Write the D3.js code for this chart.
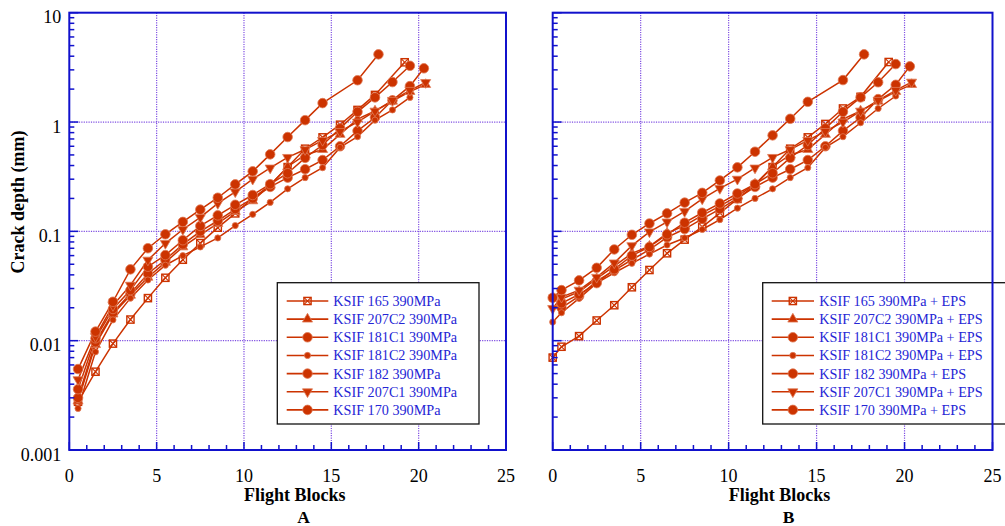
<!DOCTYPE html>
<html><head><meta charset="utf-8">
<script src="https://cdn.jsdelivr.net/npm/d3@7"></script>
<style>
html,body{margin:0;padding:0;background:#fff;}
svg{display:block;}
</style></head>
<body>
<svg id="chart" width="1005" height="526"></svg>
<script>
// ---------- data ----------
const xTickValues = [0, 5, 10, 15, 20, 25];
const yTickValues = [0.001, 0.01, 0.1, 1, 10];
const yTickLabels = ["0.001", "0.01", "0.1", "1", "10"];
const xTitle = "Flight Blocks";
const yTitle = "Crack depth (mm)";
const panelLetters = ["A", "B"];

const namesA = ["KSIF 165 390MPa", "KSIF 207C2 390MPa", "KSIF 181C1 390MPa", "KSIF 181C2 390MPa", "KSIF 182 390MPa", "KSIF 207C1 390MPa", "KSIF 170 390MPa"];
const namesB = ["KSIF 165 390MPa + EPS", "KSIF 207C2 390MPa + EPS", "KSIF 181C1 390MPa + EPS", "KSIF 181C2 390MPa + EPS", "KSIF 182 390MPa + EPS", "KSIF 207C1 390MPa + EPS", "KSIF 170 390MPa + EPS"];

// Panel A series: [flight blocks, crack depth mm]
const a165 = [[0.5,0.00276],[1.5,0.0052],[2.5,0.0094],[3.5,0.0156],[4.5,0.0245],[5.5,0.0376],[6.5,0.055],[7.5,0.078],[8.5,0.108],[9.5,0.146],[10.5,0.2],[11.5,0.265],[12.5,0.387],[13.5,0.57],[14.5,0.724],[15.5,0.945],[16.5,1.29],[17.5,1.77],[19.2,3.52]];
const a207C2 = [[0.5,0.0028],[1.5,0.0092],[2.5,0.0175],[3.5,0.026],[4.5,0.038],[5.5,0.052],[6.5,0.072],[7.5,0.093],[8.5,0.118],[9.5,0.152],[10.5,0.19],[11.5,0.265],[12.5,0.39],[13.5,0.5],[14.5,0.56],[15.5,0.77],[16.5,1.065],[17.5,1.26],[18.5,1.55],[19.5,1.9],[20.4,2.2]];
const a181C1 = [[0.5,0.003],[1.5,0.0097],[2.5,0.018],[3.5,0.027],[4.5,0.041],[5.5,0.055],[6.5,0.076],[7.5,0.1],[8.5,0.125],[9.5,0.16],[10.5,0.2],[11.5,0.255],[12.5,0.31],[13.5,0.37],[14.5,0.449],[15.5,0.6],[16.5,0.83],[17.5,1.1],[18.5,1.58],[19.5,2.13],[20.3,3.1]];
const a181C2 = [[0.5,0.0024],[1.5,0.0079],[2.5,0.0155],[3.5,0.0245],[4.5,0.0359],[5.5,0.049],[6.5,0.06],[7.5,0.072],[8.5,0.087],[9.5,0.113],[10.5,0.143],[11.5,0.184],[12.5,0.245],[13.5,0.31],[14.5,0.382],[15.5,0.586],[16.5,0.734],[17.5,1.04],[18.5,1.29],[19.5,1.68]];
const a182 = [[0.5,0.0036],[1.5,0.0105],[2.5,0.0195],[3.5,0.029],[4.5,0.0475],[5.5,0.0607],[6.5,0.083],[7.5,0.112],[8.5,0.14],[9.5,0.175],[10.5,0.215],[11.5,0.27],[12.5,0.34],[13.5,0.47],[14.5,0.616],[15.5,0.875],[16.5,1.24],[17.5,1.68],[18.5,2.32],[19.5,3.27]];
const a207C1 = [[0.5,0.0044],[1.5,0.0109],[2.5,0.021],[3.5,0.0322],[4.5,0.0546],[5.5,0.0777],[6.5,0.104],[7.5,0.134],[8.5,0.18],[9.5,0.23],[10.5,0.3],[11.5,0.38],[12.5,0.475],[13.5,0.56],[14.5,0.68],[15.5,0.82],[16.5,1.0],[17.5,1.26],[18.5,1.58],[19.5,1.95],[20.4,2.3]];
const a170 = [[0.5,0.0055],[1.5,0.0121],[2.5,0.0227],[3.5,0.0449],[4.5,0.0701],[5.5,0.094],[6.5,0.122],[7.5,0.158],[8.5,0.203],[9.5,0.269],[10.5,0.354],[11.5,0.506],[12.5,0.729],[13.5,1.04],[14.5,1.49],[16.5,2.41],[17.7,4.16]];

// Panel B series (+ EPS)
const b165 = [[0,0.007],[0.5,0.0088],[1.5,0.011],[2.5,0.0153],[3.5,0.0211],[4.5,0.0308],[5.5,0.0443],[6.5,0.063],[7.5,0.084],[8.5,0.11],[9.5,0.147],[10.5,0.198],[11.5,0.265],[12.5,0.387],[13.5,0.57],[14.5,0.724],[15.5,0.96],[16.5,1.33],[17.5,1.7],[19.1,3.54]];
const b207C2 = [[0.5,0.024],[1.5,0.028],[2.5,0.037],[3.5,0.048],[4.5,0.063],[5.5,0.073],[6.5,0.096],[7.5,0.113],[8.5,0.14],[9.5,0.17],[10.5,0.21],[11.5,0.27],[12.5,0.39],[13.5,0.5],[14.5,0.56],[15.5,0.77],[16.5,1.065],[17.5,1.26],[18.5,1.55],[19.5,1.9],[20.4,2.2]];
const b181C1 = [[0.5,0.02],[1.5,0.0255],[2.5,0.035],[3.5,0.044],[4.5,0.055],[5.5,0.068],[6.5,0.088],[7.5,0.105],[8.5,0.13],[9.5,0.16],[10.5,0.2],[11.5,0.255],[12.5,0.31],[13.5,0.37],[14.5,0.449],[15.5,0.6],[16.5,0.83],[17.5,1.1],[18.5,1.62],[19.5,2.19],[20.3,3.23]];
const b181C2 = [[0,0.0148],[0.5,0.018],[1.5,0.0244],[2.5,0.0336],[3.5,0.0418],[4.5,0.051],[5.5,0.062],[6.5,0.075],[7.5,0.087],[8.5,0.104],[9.5,0.128],[10.5,0.163],[11.5,0.2],[12.5,0.245],[13.5,0.31],[14.5,0.382],[15.5,0.586],[16.5,0.734],[17.5,0.985],[18.5,1.33],[19.5,1.73]];
const b182 = [[0.5,0.022],[1.5,0.0265],[2.5,0.0336],[3.5,0.045],[4.5,0.06],[5.5,0.072],[6.5,0.094],[7.5,0.12],[8.5,0.148],[9.5,0.18],[10.5,0.222],[11.5,0.27],[12.5,0.34],[13.5,0.47],[14.5,0.616],[15.5,0.875],[16.5,1.24],[17.5,1.68],[18.5,2.31],[19.5,3.39]];
const b207C1 = [[0,0.0197],[0.5,0.025],[1.5,0.029],[2.5,0.038],[3.5,0.0515],[4.5,0.074],[5.5,0.099],[6.5,0.122],[7.5,0.152],[8.5,0.198],[9.5,0.247],[10.5,0.3],[11.5,0.38],[12.5,0.475],[13.5,0.56],[14.5,0.68],[15.5,0.82],[16.5,1.0],[17.5,1.26],[18.5,1.58],[19.5,1.95],[20.4,2.32]];
const b170 = [[0,0.0247],[0.5,0.029],[1.5,0.0356],[2.5,0.0464],[3.5,0.0683],[4.5,0.093],[5.5,0.118],[6.5,0.146],[7.5,0.183],[8.5,0.225],[9.5,0.292],[10.5,0.385],[11.5,0.535],[12.5,0.755],[13.5,1.07],[14.5,1.53],[16.5,2.42],[17.7,4.16]];

const seriesA = [a165, a207C2, a181C1, a181C2, a182, a207C1, a170];
const seriesB = [b165, b207C2, b181C1, b181C2, b182, b207C1, b170];

// ---------- drawing ----------
const svg = d3.select("#chart");
const SERIF = "'Liberation Serif','Times New Roman',Times,serif";
const RED = "#cc3300";
const BLUE = "#1111cc";
const GRID = "#7f4fe2";
const markerKinds = ["squareX", "triUp", "circle", "small", "circle", "triDown", "circle"];

function markerPath(kind) {
  if (kind === "circle") return d3.symbol(d3.symbolCircle, 72)();
  if (kind === "small") return d3.symbol(d3.symbolCircle, 30)();
  if (kind === "triUp" || kind === "triDown") return d3.symbol(d3.symbolTriangle, 44)();
  return null;
}

function drawMarker(g, kind, x, y) {
  if (kind === "squareX") {
    const s = 3.6;
    g.append("rect").attr("x", x - s).attr("y", y - s).attr("width", 2 * s).attr("height", 2 * s)
      .attr("fill", "none").attr("stroke", RED).attr("stroke-width", 1.4);
    g.append("path").attr("d", `M${x - s},${y - s}L${x + s},${y + s}M${x + s},${y - s}L${x - s},${y + s}`)
      .attr("stroke", RED).attr("stroke-width", 1.1);
    return;
  }
  const p = g.append("path").attr("d", markerPath(kind))
    .attr("fill", RED).attr("stroke", "#e07a55").attr("stroke-width", 0.8);
  if (kind === "triDown") p.attr("transform", `translate(${x},${y}) rotate(180)`);
  else p.attr("transform", `translate(${x},${y})`);
}

function panel(opts) {
  const { x0, x1, y0, y1, series, names, showYLabels, letter, legend } = opts;
  const x = d3.scaleLinear().domain([0, 25]).range([x0, x1]);
  const y = d3.scaleLog().domain([0.001, 10]).range([y1, y0]);
  const g = svg.append("g");

  // grid
  const grid = g.append("g");
  [5, 10, 15, 20].forEach(v => {
    grid.append("line").attr("x1", x(v)).attr("x2", x(v)).attr("y1", y0).attr("y2", y1)
      .attr("stroke", GRID).attr("stroke-width", 1.2).attr("stroke-dasharray", "1.2,1.2");
  });
  [0.01, 0.1, 1].forEach(v => {
    grid.append("line").attr("x1", x0).attr("x2", x1).attr("y1", y(v)).attr("y2", y(v))
      .attr("stroke", GRID).attr("stroke-width", 1.2).attr("stroke-dasharray", "1.2,1.2");
  });

  // legend box (drawn under data)
  const lg = g.append("g");
  lg.append("rect").attr("x", legend.bx).attr("y", legend.by).attr("width", legend.bw).attr("height", legend.bh)
    .attr("fill", "#fff").attr("stroke", "#111").attr("stroke-width", 1.3);

  // series
  const line = d3.line().x(d => x(d[0])).y(d => y(d[1]));
  series.forEach((s, i) => {
    g.append("path").datum(s).attr("d", line).attr("fill", "none")
      .attr("stroke", RED).attr("stroke-width", 1.5);
  });
  series.forEach((s, i) => {
    const mg = g.append("g");
    s.forEach(d => drawMarker(mg, markerKinds[i], x(d[0]), y(d[1])));
  });

  // legend entries
  names.forEach((n, i) => {
    const ry = legend.by + 18.3 + i * 18.15;
    lg.append("line").attr("x1", legend.lx0).attr("x2", legend.lx1).attr("y1", ry).attr("y2", ry)
      .attr("stroke", RED).attr("stroke-width", 1.6);
    const mg = g.append("g");
    drawMarker(mg, markerKinds[i], (legend.lx0 + legend.lx1) / 2, ry);
    g.append("text").attr("x", legend.tx).attr("y", ry + 5).text(n)
      .attr("font-family", SERIF).attr("font-size", 14.2).attr("fill", "#2525d5");
  });

  // axes: minor ticks
  const ax = g.append("g");
  const minorY = [];
  for (let e = -3; e < 1; e++) for (let m = 2; m <= 9; m++) minorY.push(m * Math.pow(10, e));
  minorY.forEach(v => ax.append("line").attr("x1", x0).attr("x2", x0 + 5).attr("y1", y(v)).attr("y2", y(v))
    .attr("stroke", BLUE).attr("stroke-width", 1.5));
  yTickValues.forEach(v => ax.append("line").attr("x1", x0).attr("x2", x0 + 9).attr("y1", y(v)).attr("y2", y(v))
    .attr("stroke", BLUE).attr("stroke-width", 1.5));
  d3.range(0, 26).forEach(v => {
    const len = v % 5 === 0 ? 8 : 5;
    ax.append("line").attr("x1", x(v)).attr("x2", x(v)).attr("y1", y1).attr("y2", y1 - len)
      .attr("stroke", BLUE).attr("stroke-width", 1.5);
  });
  // frame
  ax.append("rect").attr("x", x0).attr("y", y0).attr("width", x1 - x0).attr("height", y1 - y0)
    .attr("fill", "none").attr("stroke", BLUE).attr("stroke-width", 2);

  // tick labels
  xTickValues.forEach(v => ax.append("text").attr("x", x(v)).attr("y", y1 + 31.5).text(v)
    .attr("text-anchor", "middle").attr("font-family", SERIF).attr("font-size", 18).attr("fill", "#000"));
  if (showYLabels) {
    yTickValues.forEach((v, i) => ax.append("text").attr("x", x0 - 8).attr("y", y(v) + 10.5).text(yTickLabels[i])
      .attr("text-anchor", "end").attr("font-family", SERIF).attr("font-size", 18).attr("fill", "#000"));
  }
  // titles
  const cx = (x0 + x1) / 2;
  ax.append("text").attr("x", cx + 7).attr("y", y1 + 51).text(xTitle)
    .attr("text-anchor", "middle").attr("font-family", SERIF).attr("font-size", 18).attr("font-weight", "bold");
  ax.append("text").attr("x", cx + 16).attr("y", y1 + 72.5).text(letter)
    .attr("text-anchor", "middle").attr("font-family", SERIF).attr("font-size", 17.5).attr("font-weight", "bold");
}

panel({
  x0: 69.3, x1: 506, y0: 12.7, y1: 450,
  series: seriesA, names: namesA, showYLabels: true, letter: panelLetters[0],
  legend: { bx: 277.3, by: 282.7, bw: 201.7, bh: 141.3, lx0: 286.7, lx1: 328.3, tx: 333.3 }
});
panel({
  x0: 552.7, x1: 992.5, y0: 12.7, y1: 450,
  series: seriesB, names: namesB, showYLabels: false, letter: panelLetters[1],
  legend: { bx: 762.7, by: 282.7, bw: 260, bh: 141.3, lx0: 771.7, lx1: 814, tx: 819.3 }
});

// y title
svg.append("text").attr("transform", "translate(24,202) rotate(-90)").text(yTitle)
  .attr("text-anchor", "middle").attr("font-family", SERIF).attr("font-size", 18).attr("font-weight", "bold");
</script>
</body></html>
